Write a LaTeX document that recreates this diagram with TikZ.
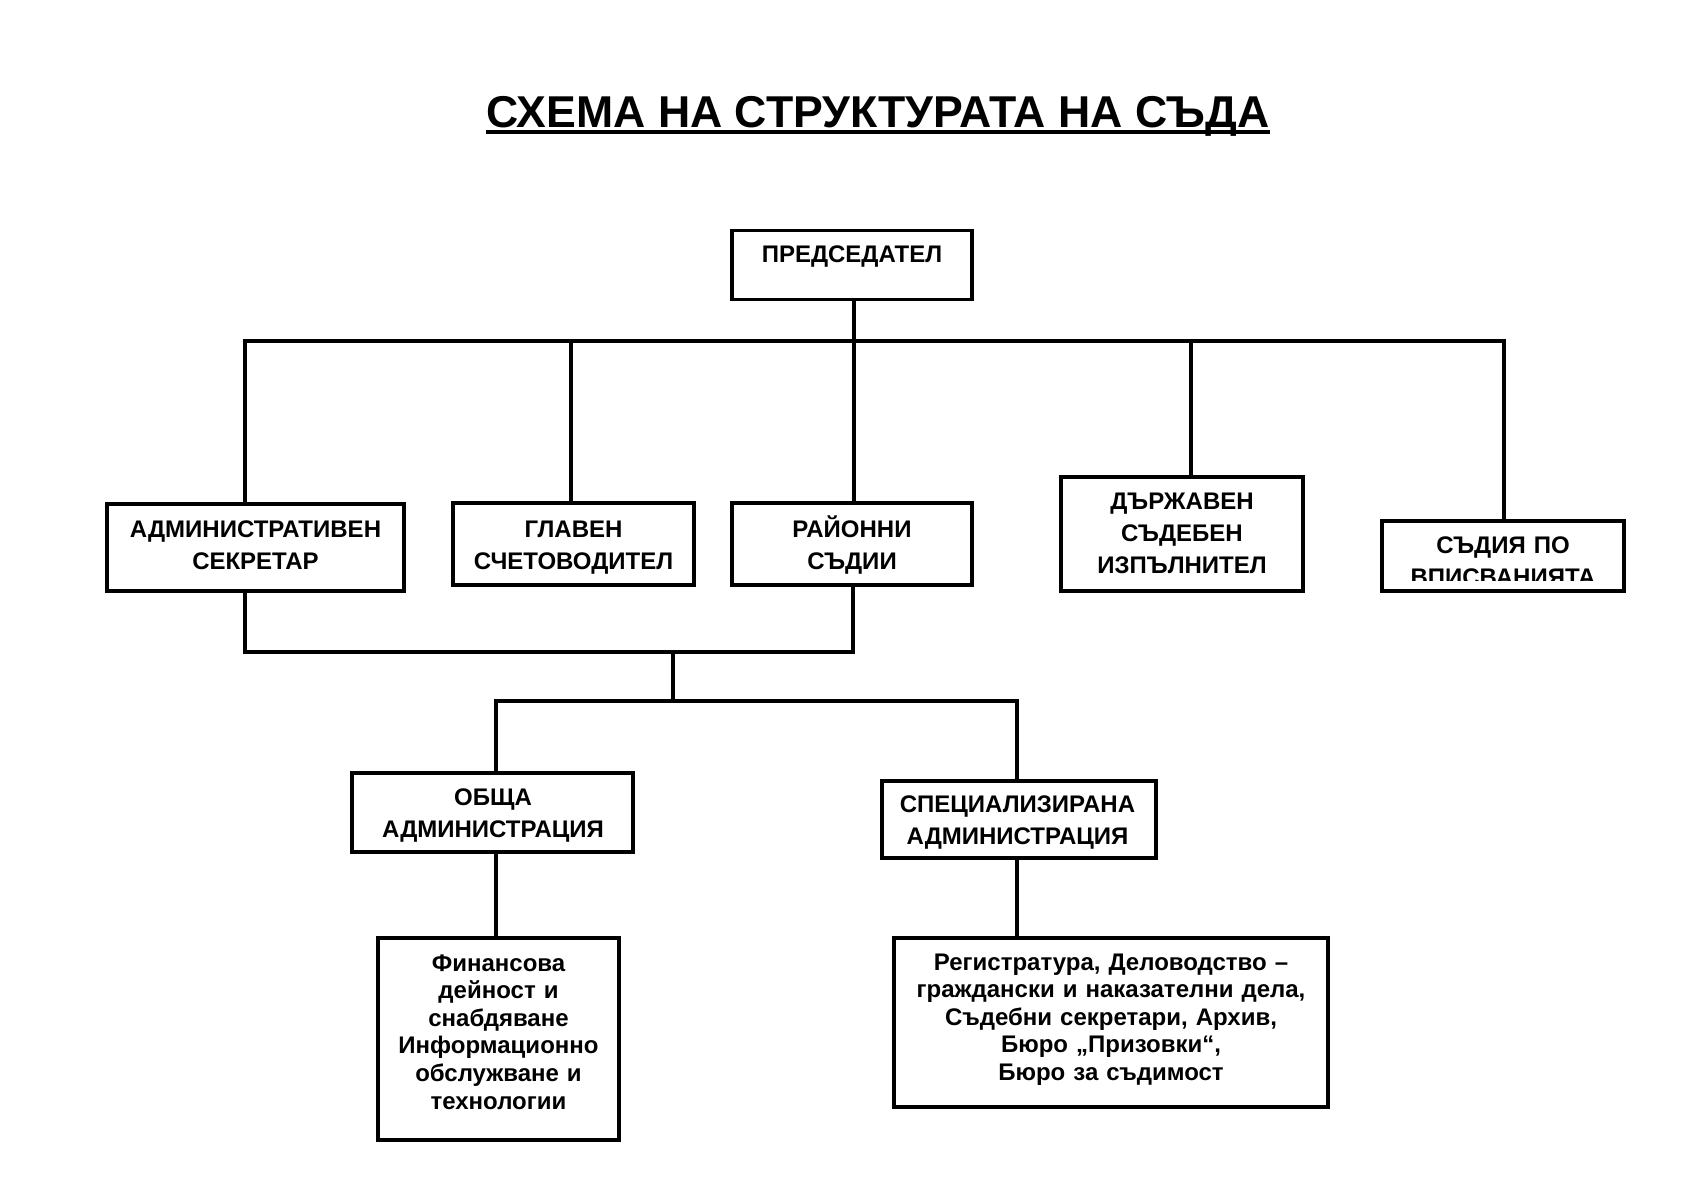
\documentclass[tikz,border=0pt]{standalone}
\usepackage{fontspec}
\setmainfont{Liberation Sans}
\usetikzlibrary{positioning}
\begin{document}
\begin{tikzpicture}[
	x=0.5pt, y=-0.5pt,
	box/.style={ draw, line width=1.6pt, inner sep=0pt },
	lbl/.style={ anchor=base, align=center, inner sep=0pt, text width=210pt, font=\fontsize{12}{16}\selectfont\bfseries },
	conn/.style={ line width=1.6pt }
]
\path[use as bounding box, fill=white] (0,0) rectangle (1683,1190);

\node[anchor=base, inner sep=0pt, font=\fontsize{22.3}{26}\selectfont\bfseries] (title) at (878,127) {СХЕМА НА СТРУКТУРАТА НА СЪДА};
\draw[line width=2pt] ([yshift=-2.5pt]title.base west) -- ([yshift=-2.5pt]title.base east);

\node[box, minimum width=120pt, minimum height=34.25pt] at (852,265) (pred) {};
\node[box, minimum width=148.5pt, minimum height=43.5pt] at (255.5,547.5) (admsec) {};
\node[box, minimum width=120.5pt, minimum height=41pt] at (573.5,544) (glav) {};
\node[box, minimum width=120pt, minimum height=41pt] at (852,544) (rajon) {};
\node[box, minimum width=121pt, minimum height=57pt] at (1182,534) (dsi) {};
\node[box, minimum width=121pt, minimum height=35pt] at (1503,556) (vpis) {};
\node[box, minimum width=140.5pt, minimum height=39.5pt] at (492.5,812.5) (obsta) {};
\node[box, minimum width=137pt, minimum height=38.5pt] at (1019,819.5) (spec) {};
\node[box, minimum width=120.5pt, minimum height=101pt] at (498.5,1039) (fin) {};
\node[box, minimum width=217pt, minimum height=84.5pt] at (1111,1022.5) (reg) {};

\node[lbl] at (852,262) (predt) {ПРЕДСЕДАТЕЛ};
\node[lbl] at (255.5,537) (admsect) {АДМИНИСТРАТИВЕН\\СЕКРЕТАР};
\node[lbl] at (573.5,537) (glavt) {ГЛАВЕН\\СЧЕТОВОДИТЕЛ};
\node[lbl] at (852,537) (rajont) {РАЙОННИ\\СЪДИИ};
\node[lbl] at (1182,509) (dsit) {ДЪРЖАВЕН\\СЪДЕБЕН\\ИЗПЪЛНИТЕЛ};
\begin{scope}
\clip (1382,521) rectangle (1624,580);
\node[lbl] at (1503,553) (vpist) {СЪДИЯ ПО\\ВПИСВАНИЯТА};
\end{scope}
\node[lbl] at (493,805) (obstat) {ОБЩА\\АДМИНИСТРАЦИЯ};
\node[lbl] at (1017.5,812) (spect) {СПЕЦИАЛИЗИРАНА\\АДМИНИСТРАЦИЯ};
\node[lbl, font=\fontsize{12}{13.8}\selectfont\bfseries] at (498.5,971) (fint) {Финансова\\дейност и\\снабдяване\\Информационно\\обслужване и\\технологии};
\node[lbl, font=\fontsize{12}{13.8}\selectfont\bfseries] at (1111,970) (regt) {Регистратура, Деловодство –\\граждански и наказателни дела,\\Съдебни секретари, Архив,\\Бюро „Призовки“,\\Бюро за съдимост};

\coordinate (b1) at (245,341);
\coordinate (b2) at (571,341);
\coordinate (b3) at (854,341);
\coordinate (b4) at (1191,341);
\coordinate (b5) at (1504,341);
\draw[conn] (b1 |- admsec.north) -- (b1) -- (b5) -- (b5 |- vpis.north);
\draw[conn] (b3 |- pred.south) -- (b3 |- rajon.north);
\foreach \b/\n in {b2/glav,b4/dsi} \draw[conn] (\b) -- (\b |- \n.north);

\coordinate (l1) at (245,652);
\coordinate (l2) at (853,652);
\coordinate (m1) at (673,652);
\coordinate (m2) at (673,701);
\coordinate (s1) at (496,701);
\coordinate (s2) at (1017,701);
\draw[conn] (l1 |- admsec.south) -- (l1) -- (l2) -- (l2 |- rajon.south);
\draw[conn] (m1) -- (m2);
\draw[conn] (s1 |- obsta.north) -- (s1) -- (s2) -- (s2 |- spec.north);
\draw[conn] (s1 |- obsta.south) -- (s1 |- fin.north);
\draw[conn] (s2 |- spec.south) -- (s2 |- reg.north);

\end{tikzpicture}
\end{document}
